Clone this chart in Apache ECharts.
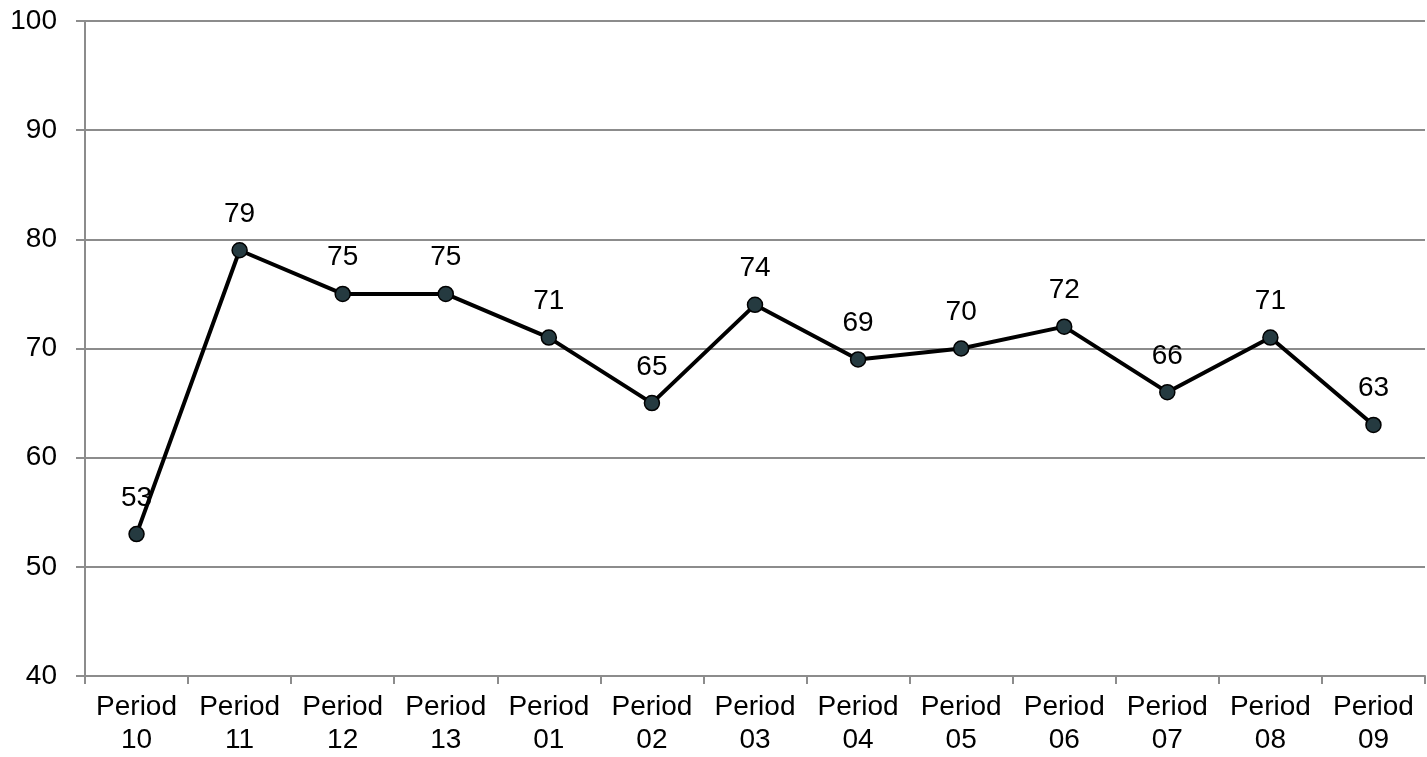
<!DOCTYPE html>
<html>
<head>
<meta charset="utf-8">
<script src="https://cdn.jsdelivr.net/npm/echarts@6/dist/echarts.min.js"></script>
<style>
html,body{margin:0;padding:0;background:#fff;}
#chart{width:1427px;height:757px;}
</style>
</head>
<body>
<div id="chart"></div>
<script>
const categories = ['Period\n10','Period\n11','Period\n12','Period\n13','Period\n01','Period\n02','Period\n03','Period\n04','Period\n05','Period\n06','Period\n07','Period\n08','Period\n09'];
const values = [53,79,75,75,71,65,74,69,70,72,66,71,63];
const yMin = 40, yMax = 100, yStep = 10;

const chart = echarts.init(document.getElementById('chart'));
chart.setOption({
  animation: false,
  backgroundColor: '#ffffff',
  grid: {left: 85, right: 2, top: 21, bottom: 81, containLabel: false},
  xAxis: {
    type: 'category',
    data: categories,
    boundaryGap: true,
    axisLine: {lineStyle: {color: '#8c8c8c', width: 2}},
    axisTick: {show: true, length: 8, lineStyle: {color: '#8c8c8c', width: 2}},
    axisLabel: {fontFamily: 'Liberation Sans, Arial', fontSize: 28, color: '#000', lineHeight: 33, margin: 15, interval: 0}
  },
  yAxis: {
    type: 'value',
    min: yMin, max: yMax, interval: yStep,
    axisLine: {show: true, lineStyle: {color: '#8c8c8c', width: 2}},
    axisTick: {show: true, length: 9, lineStyle: {color: '#8c8c8c', width: 2}},
    splitLine: {lineStyle: {color: '#8c8c8c', width: 2}},
    axisLabel: {fontFamily: 'Liberation Sans, Arial', fontSize: 28, color: '#000', margin: 28}
  },
  series: [{
    type: 'line',
    data: values,
    symbol: 'circle',
    symbolSize: 15,
    lineStyle: {color: '#000', width: 4},
    itemStyle: {color: '#253a40', borderColor: '#000', borderWidth: 1.5},
    label: {show: true, position: 'top', distance: 14, fontFamily: 'Liberation Sans, Arial', fontSize: 28, color: '#000'}
  }]
});
</script>
</body>
</html>
